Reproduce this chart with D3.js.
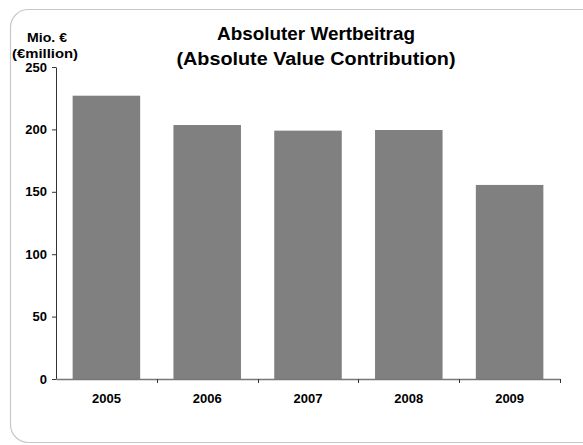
<!DOCTYPE html>
<html><head><meta charset="utf-8">
<script src="https://cdn.jsdelivr.net/npm/d3@7"></script>
<style>body{margin:0;background:#fff;}svg{display:block;font-family:"Liberation Sans",Arial,sans-serif;}</style>
</head><body><svg width="583" height="445"></svg>
<script>
const categories = ["2005","2006","2007","2008","2009"];
const values = [227, 203.5, 199, 199.5, 155.5];
const yTicks = [0,50,100,150,200,250];
const titleLines = ["Absoluter Wertbeitrag","(Absolute Value Contribution)"];
const yLabelLines = ["Mio. €","(€million)"];

const svg = d3.select("svg");
svg.append("rect").attr("x",10.5).attr("y",9.5).attr("width",600).attr("height",433)
  .attr("rx",18).attr("fill","#fff").attr("stroke","#c8c8c8").attr("stroke-width",1.2);

const x = d3.scaleBand().domain(categories).range([56,560]).paddingInner(0.33).paddingOuter(0.165);
const y = d3.scaleLinear().domain([0,250]).range([379,67]);

svg.selectAll("rect.bar").data(values).enter().append("rect").attr("class","bar")
  .attr("x",(d,i)=>x(categories[i])).attr("width",x.bandwidth())
  .attr("y",d=>y(d)).attr("height",d=>y(0)-y(d)).attr("fill","#808080");

const yAxis = svg.append("g").attr("transform","translate(56,0)")
  .call(d3.axisLeft(y).tickValues(yTicks).tickSize(4).tickSizeOuter(0));
yAxis.select(".domain").attr("stroke","#333");
yAxis.selectAll(".tick line").attr("stroke","#333");
yAxis.selectAll("text").attr("font-size",13).attr("font-weight","bold").attr("fill","#000").attr("x",-9);

const xAxis = svg.append("g").attr("transform","translate(0,379)")
  .call(d3.axisBottom(x).tickSize(0).tickSizeOuter(0));
xAxis.select(".domain").attr("stroke","#777").attr("stroke-width",1.5);
xAxis.selectAll("text").attr("font-size",13).attr("font-weight","bold").attr("fill","#000").attr("dy","0").attr("y",23.5);
// tick marks at band boundaries
const step = x.step();
const bounds = categories.map(c=>x(c)-x.paddingInner()*step/2).concat([560]);
svg.selectAll("line.xt").data(bounds.slice(1)).enter().append("line").attr("class","xt")
  .attr("x1",d=>Math.round(d)+0.5).attr("x2",d=>Math.round(d)+0.5).attr("y1",379).attr("y2",383)
  .attr("stroke","#333");

const titleLen = [198, 279];
svg.selectAll("text.title").data(titleLines).enter().append("text").attr("class","title")
  .attr("x",316).attr("y",(d,i)=>40+i*25).attr("text-anchor","middle")
  .attr("font-size",18).attr("font-weight","bold")
  .attr("textLength",(d,i)=>titleLen[i]).attr("lengthAdjust","spacingAndGlyphs").text(d=>d);

const ylabLen = [40, 66];
const ylabX = [47, 45];
svg.selectAll("text.ylab").data(yLabelLines).enter().append("text").attr("class","ylab")
  .attr("x",(d,i)=>ylabX[i]).attr("y",(d,i)=>42+i*16).attr("text-anchor","middle")
  .attr("font-size",12).attr("font-weight","bold")
  .attr("textLength",(d,i)=>ylabLen[i]).attr("lengthAdjust","spacingAndGlyphs").text(d=>d);
</script></body></html>
